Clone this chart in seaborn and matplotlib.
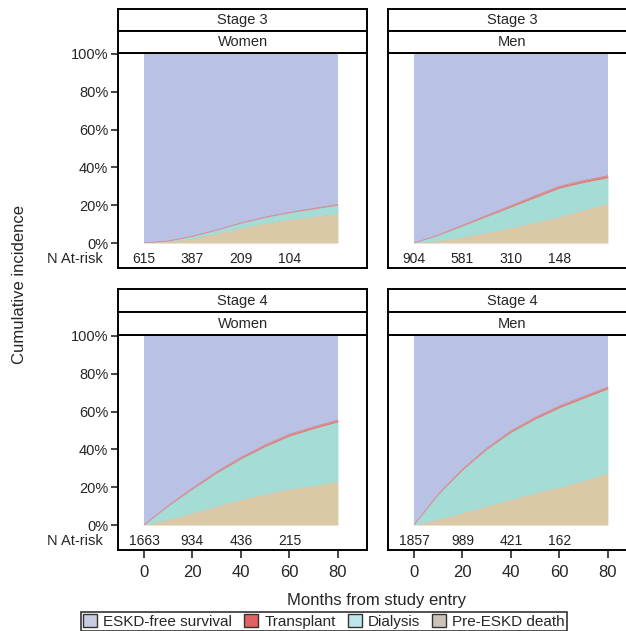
import numpy as np
import pandas as pd
import matplotlib
matplotlib.use("Agg")
import matplotlib.pyplot as plt
from matplotlib.patches import Patch
import seaborn as sns

# ---------------- data ----------------
months = [0, 10, 20, 30, 40, 50, 60, 70, 80]

panel_stage = ["Stage 3", "Stage 3", "Stage 4", "Stage 4"]
panel_sex = ["Women", "Men", "Women", "Men"]

# cumulative stacked boundaries (%)
s3w_death = [0, 0.8, 2.5, 5.0, 8.0, 10.5, 12.5, 14.0, 15.5]
s3w_dial = [0, 1.1, 3.5, 6.8, 10.5, 13.5, 16.0, 18.0, 20.0]
s3w_tx = [0, 1.1, 3.6, 6.9, 10.6, 13.7, 16.2, 18.3, 20.3]

s3m_death = [0, 1.2, 3.2, 5.5, 8.0, 11.0, 14.0, 17.5, 21.0]
s3m_dial = [0, 4.0, 9.0, 14.0, 19.0, 24.0, 29.0, 32.0, 34.5]
s3m_tx = [0, 4.2, 9.4, 14.6, 19.8, 25.0, 30.0, 33.1, 35.6]

s4w_death = [0, 3.0, 6.5, 10.0, 13.5, 16.5, 19.0, 21.0, 23.0]
s4w_dial = [0, 10.0, 19.0, 27.5, 35.0, 41.5, 47.0, 51.0, 54.5]
s4w_tx = [0, 10.3, 19.5, 28.2, 35.8, 42.4, 48.0, 52.0, 55.5]

s4m_death = [0, 3.0, 6.5, 10.0, 13.5, 17.0, 20.0, 23.5, 27.5]
s4m_dial = [0, 16.0, 29.0, 40.0, 49.0, 56.0, 62.0, 67.0, 72.0]
s4m_tx = [0, 16.3, 29.5, 40.6, 49.8, 56.9, 63.0, 68.0, 73.0]

risk_times = [0, 20, 40, 60]
s3w_risk = [615, 387, 209, 104]
s3m_risk = [904, 581, 310, 148]
s4w_risk = [1663, 934, 436, 215]
s4m_risk = [1857, 989, 421, 162]

legend_labels = ["ESKD-free survival", "Transplant", "Dialysis", "Pre-ESKD death"]
y_ticks = [0, 20, 40, 60, 80, 100]
x_ticks = [0, 20, 40, 60, 80]

panels = [
    (s3w_death, s3w_dial, s3w_tx, s3w_risk),
    (s3m_death, s3m_dial, s3m_tx, s3m_risk),
    (s4w_death, s4w_dial, s4w_tx, s4w_risk),
    (s4m_death, s4m_dial, s4m_tx, s4m_risk),
]

# ---------------- style ----------------
sns.set_theme(style="white")
plt.rcParams["font.family"] = ["Liberation Sans", "DejaVu Sans"]

c_free = "#b9c2e4"
c_tx = "#e8705e"
c_dial = "#a4dcd6"
c_death = "#dac9a6"

W, H = 626, 631
fig = plt.figure(figsize=(W / 100, H / 100), dpi=100)

def fx(px):
    return px / W

def fy(py):
    return 1 - py / H

lefts = [118, 388, 118, 388]
pw = 249
tops = [53, 53, 335, 335]
ph = 215
strip_h = [22, 22, 23, 23]

lw = 1.4
for i, (death, dial, tx, risk) in enumerate(panels):
    L, T = lefts[i], tops[i]
    ax = fig.add_axes([fx(L), fy(T + ph), pw / W, ph / H])
    m = np.array(months, dtype=float)
    ax.fill_between(m, 0, 100, color=c_free, lw=0)
    ax.fill_between(m, dial, tx, color=c_tx, lw=0, alpha=0.8)
    ax.fill_between(m, death, dial, color=c_dial, lw=0)
    ax.fill_between(m, 0, death, color=c_death, lw=0)
    df = pd.DataFrame({"month": months, "tx": tx})
    sns.lineplot(data=df, x="month", y="tx", ax=ax, color=c_tx, lw=0.5, alpha=0.8)
    ax.set_xlim(-10.7, 92)
    ax.set_ylim(-13.2, 100.5)
    ax.set_xlabel("")
    ax.set_ylabel("")
    for s in ax.spines.values():
        s.set_color("black")
        s.set_linewidth(lw)
    for t, n in zip(risk_times, risk):
        ax.text(t, -8.5, str(n), ha="center", va="center", fontsize=10, color="#222222")
    if i % 2 == 0:
        ax.set_yticks(y_ticks)
        ax.set_yticklabels([f"{v}%" for v in y_ticks], fontsize=10.5)
        ax.tick_params(axis="y", direction="out", length=5, width=1.2, left=True, pad=2)
        ax.text(-0.06, (-8.5 + 13.2) / (100.5 + 13.2), "N At-risk", transform=ax.transAxes,
                ha="right", va="center", fontsize=10.5)
    else:
        ax.set_yticks([])
    if i >= 2:
        ax.set_xticks(x_ticks)
        ax.set_xticklabels([str(v) for v in x_ticks], fontsize=12)
        ax.tick_params(axis="x", direction="out", length=6, width=1.2, bottom=True, pad=5)
    else:
        ax.set_xticks([])

    # strips
    sh = strip_h[i]
    for k, txt in enumerate([panel_stage[i], panel_sex[i]]):
        top_px = T - sh * (2 - k)
        sax = fig.add_axes([fx(L), fy(top_px + sh), pw / W, sh / H])
        sax.set_facecolor("white")
        sax.set_xticks([])
        sax.set_yticks([])
        for s in sax.spines.values():
            s.set_color("black")
            s.set_linewidth(lw)
        sax.text(0.5, 0.5, txt, ha="center", va="center", fontsize=10.5, transform=sax.transAxes)

fig.text(fx(377), fy(600), "Months from study entry", ha="center", va="center", fontsize=12)
fig.text(fx(20), fy(285), "Cumulative incidence", ha="center", va="center", rotation=90, fontsize=12)

handles = [
    Patch(facecolor="#c9cde2", edgecolor="#333333", lw=1),
    Patch(facecolor="#e06262", edgecolor="#333333", lw=1),
    Patch(facecolor="#bfe6ea", edgecolor="#333333", lw=1),
    Patch(facecolor="#cbc3b9", edgecolor="#333333", lw=1),
]
leg = fig.legend(handles, legend_labels, loc="upper center", bbox_to_anchor=(fx(324), fy(612)),
                 ncol=4, fontsize=11, frameon=True, fancybox=False, handlelength=0.9,
                 handleheight=0.9, handletextpad=0.4, columnspacing=0.8, borderpad=0.15,
                 borderaxespad=0)
leg.get_frame().set_edgecolor("black")
leg.get_frame().set_linewidth(1.2)

fig.savefig("out.png", dpi=100)
